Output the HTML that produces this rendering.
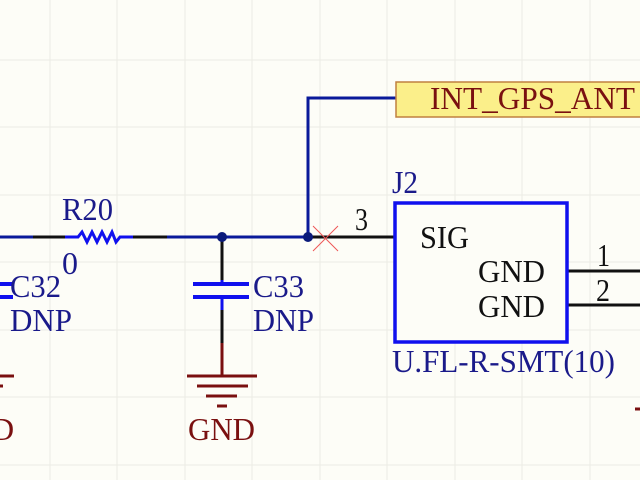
<!DOCTYPE html>
<html><head><style>
html,body{margin:0;padding:0;background:#fdfdf7;}
svg{display:block}
text{font-family:"Liberation Serif",serif;}
</style></head><body>
<svg width="640" height="480" viewBox="0 0 640 480" xmlns="http://www.w3.org/2000/svg">
<rect width="640" height="480" fill="#fdfdf7"/>
<g stroke="#ecece4" stroke-width="1">
<line x1="50" y1="0" x2="50" y2="480"/><line x1="117" y1="0" x2="117" y2="480"/><line x1="185" y1="0" x2="185" y2="480"/><line x1="252" y1="0" x2="252" y2="480"/><line x1="320" y1="0" x2="320" y2="480"/><line x1="387" y1="0" x2="387" y2="480"/><line x1="455" y1="0" x2="455" y2="480"/><line x1="522" y1="0" x2="522" y2="480"/><line x1="590" y1="0" x2="590" y2="480"/>
<line x1="0" y1="60" x2="640" y2="60"/><line x1="0" y1="127" x2="640" y2="127"/><line x1="0" y1="195" x2="640" y2="195"/><line x1="0" y1="262" x2="640" y2="262"/><line x1="0" y1="330" x2="640" y2="330"/><line x1="0" y1="397" x2="640" y2="397"/><line x1="0" y1="465" x2="640" y2="465"/>
</g>
<g stroke-width="3" fill="none">
<line x1="0" y1="237" x2="33" y2="237" stroke="#0a1a9a"/>
<line x1="33" y1="237" x2="65" y2="237" stroke="#111"/>
<polyline points="65,237 78,237 82,232 87,242 92,232 97,242 102,232 107,242 112,232 116,242 120,237 133,237" stroke="#1010ee"/>
<line x1="133" y1="237" x2="167" y2="237" stroke="#111"/>
<line x1="167" y1="237" x2="308" y2="237" stroke="#0a1a9a"/>
<polyline points="308,237 308,98 397,98" stroke="#0a1a9a"/>
<line x1="308" y1="237" x2="395" y2="237" stroke="#111"/>
<line x1="222" y1="237" x2="222" y2="280" stroke="#111"/>
<line x1="222" y1="280" x2="222" y2="284" stroke="#1010ee"/>
<line x1="193" y1="284" x2="249" y2="284" stroke="#1010ee" stroke-width="4"/>
<line x1="193" y1="297" x2="249" y2="297" stroke="#1010ee" stroke-width="4"/>
<line x1="222" y1="297" x2="222" y2="310" stroke="#1010ee"/>
<line x1="222" y1="310" x2="222" y2="343" stroke="#111"/>
<line x1="222" y1="343" x2="222" y2="376" stroke="#7a1010"/>
<line x1="0" y1="284" x2="13" y2="284" stroke="#1010ee" stroke-width="4"/>
<line x1="0" y1="297" x2="13" y2="297" stroke="#1010ee" stroke-width="4"/>
<g stroke="#7a1010">
<line x1="187" y1="376" x2="257" y2="376"/><line x1="197" y1="386" x2="248" y2="386"/><line x1="206" y1="396" x2="237" y2="396"/><line x1="217" y1="406" x2="227" y2="406"/>
<line x1="0" y1="376" x2="14" y2="376"/><line x1="0" y1="386" x2="3" y2="386"/>
<line x1="635" y1="409" x2="640" y2="409"/>
</g>
<line x1="567" y1="271" x2="640" y2="271" stroke="#111"/>
<line x1="567" y1="305" x2="640" y2="305" stroke="#111"/>
<rect x="395" y="203" width="172" height="139" stroke="#1010ee" stroke-width="3.5" fill="#fdfdf7"/>
</g>
<circle cx="222" cy="237" r="5" fill="#0a1a7a"/>
<circle cx="308" cy="237" r="5" fill="#0a1a7a"/>
<g stroke="#ee5555" stroke-width="1"><line x1="313" y1="226" x2="338" y2="251"/><line x1="313" y1="251" x2="338" y2="226"/></g>
<rect x="396" y="82" width="246" height="35" fill="#fbef8a" stroke="#c08040" stroke-width="1.5"/>
<g font-size="32">
<text x="430" y="109" fill="#7a1010" textLength="205" lengthAdjust="spacingAndGlyphs">INT_GPS_ANT</text>
<text x="62" y="220" fill="#1a1a8a" textLength="51" lengthAdjust="spacingAndGlyphs">R20</text>
<text x="62" y="274" fill="#1a1a8a">0</text>
<text x="10" y="297" fill="#1a1a8a" textLength="51" lengthAdjust="spacingAndGlyphs">C32</text>
<text x="10" y="331" fill="#1a1a8a" textLength="62" lengthAdjust="spacingAndGlyphs">DNP</text>
<text x="253" y="297" fill="#1a1a8a" textLength="51" lengthAdjust="spacingAndGlyphs">C33</text>
<text x="253" y="331" fill="#1a1a8a" textLength="61" lengthAdjust="spacingAndGlyphs">DNP</text>
<text x="188" y="440" fill="#7a1010" textLength="67" lengthAdjust="spacingAndGlyphs">GND</text>
<text x="-9" y="440" fill="#7a1010">D</text>
<text x="392" y="193" fill="#1a1a8a" textLength="26" lengthAdjust="spacingAndGlyphs">J2</text>
<text x="392" y="372" fill="#1a1a8a" textLength="223" lengthAdjust="spacingAndGlyphs">U.FL-R-SMT(10)</text>
<text x="420" y="248" fill="#111" textLength="49" lengthAdjust="spacingAndGlyphs">SIG</text>
<text x="478" y="282" fill="#111" textLength="67" lengthAdjust="spacingAndGlyphs">GND</text>
<text x="478" y="317" fill="#111" textLength="67" lengthAdjust="spacingAndGlyphs">GND</text>
<text x="355" y="230" fill="#111" textLength="13" lengthAdjust="spacingAndGlyphs">3</text>
<text x="597" y="266" fill="#111" textLength="13" lengthAdjust="spacingAndGlyphs">1</text>
<text x="596" y="301" fill="#111" textLength="14" lengthAdjust="spacingAndGlyphs">2</text>
</g>
</svg>
</body></html>
